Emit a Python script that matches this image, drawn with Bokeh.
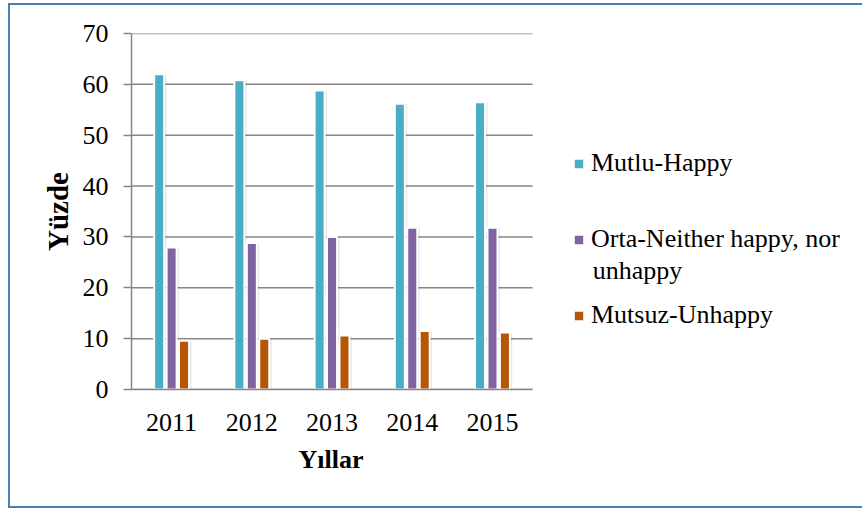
from bokeh.plotting import figure
from bokeh.models import (ColumnDataSource, Range1d, Legend, LegendItem, Label, FixedTicker, Title)
from bokeh.transform import dodge
from bokeh.embed import file_html
from bokeh.resources import INLINE

# ---- data ----
years = ["2011", "2012", "2013", "2014", "2015"]
happy = [62.0, 60.8, 58.8, 56.2, 56.5]
neither = [27.9, 28.8, 30.0, 31.8, 31.8]
unhappy = [9.6, 10.0, 10.6, 11.5, 11.2]
series_names = ["Mutlu-Happy", "Orta-Neither happy, nor", "Mutsuz-Unhappy"]
series_name_cont = "unhappy"
y_ticks = [0, 10, 20, 30, 40, 50, 60, 70]
x_title = "Yıllar"
y_title = "Yüzde"

colors = ["#4BACC6", "#8064A2", "#B65708"]
FONT = "Liberation Serif"
grey = "#868686"

n = len(years)
xc = [i + 0.5 for i in range(n)]          # category centres
offsets = [-0.155, 0.0, 0.155]
w = 0.125
PX = 80.0                                  # pixels per category

src = ColumnDataSource(dict(xc=xc, happy=happy, neither=neither, unhappy=unhappy))

p = figure(width=854, height=505, x_range=Range1d(0, 731 / PX), y_range=Range1d(0, 70),
           output_backend="svg", toolbar_location=None,
           min_border_left=121, min_border_right=0, min_border_top=28, min_border_bottom=121,
           styles={"margin-left": "8px", "margin-top": "3px",
                   "border-left": "2px solid #4a7ebb", "border-top": "2px solid #4a7ebb",
                   "border-bottom": "2px solid #4a7ebb"})
p.outline_line_color = None
p.background_fill_color = "white"

# horizontal gridlines over the category area only
p.segment(x0=[0] * len(y_ticks), x1=[n] * len(y_ticks), y0=y_ticks, y1=y_ticks,
          line_color=grey, line_width=1.5, level="underlay")

fields = ["happy", "neither", "unhappy"]
for f, off in zip(fields, offsets):
    p.vbar(x=dodge("xc", off + 0.03), top=f, bottom=-0.5, width=w, source=src,
           fill_color="#000000", fill_alpha=0.09, line_color=None)
renderers = []
for f, off, c in zip(fields, offsets, colors):
    r = p.vbar(x=dodge("xc", off), top=f, width=w, source=src,
               fill_color=c, line_color="white", line_width=2)
    renderers.append(r)

p.xgrid.visible = False
p.ygrid.visible = False

for ax in (p.xaxis[0], p.yaxis[0]):
    ax.axis_line_color = grey
    ax.axis_line_width = 1.5
    ax.minor_tick_line_color = None
    ax.major_label_text_font = FONT
    ax.major_label_text_font_size = "26px"
    ax.major_label_text_color = "black"
    ax.axis_label_text_font = FONT
    ax.axis_label_text_font_style = "bold"
    ax.axis_label_text_color = "black"

p.xaxis.ticker = FixedTicker(ticks=xc)
p.xaxis.major_label_overrides = {x: y for x, y in zip(xc, years)}
p.xaxis.bounds = (0, n)
p.xaxis.major_tick_line_color = None
p.xaxis.major_tick_out = 0
p.xaxis.major_tick_in = 0
p.xaxis.major_label_standoff = 24

# x-axis title centred under the category area
p.add_layout(Title(text=x_title, align="left", offset=n * PX / 2 - 33,
                   text_font=FONT, text_font_size="26px", text_font_style="bold",
                   text_color="black", standoff=18), "below")

p.yaxis.ticker = FixedTicker(ticks=y_ticks)
p.yaxis.major_tick_line_color = grey
p.yaxis.major_tick_line_width = 1.5
p.yaxis.major_tick_out = 8
p.yaxis.major_tick_in = 0
p.yaxis.major_label_standoff = 15
p.yaxis.axis_label = y_title
p.yaxis.axis_label_text_font_size = "29px"
p.yaxis.axis_label_standoff = 6

legend = Legend(items=[LegendItem(label=s, renderers=[r]) for s, r in zip(series_names, renderers)],
                location=(441, 59), orientation="vertical",
                border_line_color=None, background_fill_alpha=0,
                padding=0, margin=0, spacing=46, label_height=30,
                glyph_width=13, glyph_height=13, label_standoff=6,
                label_text_font=FONT, label_text_font_size="26px", label_text_color="black")
p.add_layout(legend, "center")

p.add_layout(Label(x=(591 - 131) / PX, y=23.4, text=series_name_cont, text_font=FONT,
                   text_font_size="26px", text_color="black",
                   text_align="left", text_baseline="middle"))

open("out.html", "w").write(file_html(p, INLINE))
